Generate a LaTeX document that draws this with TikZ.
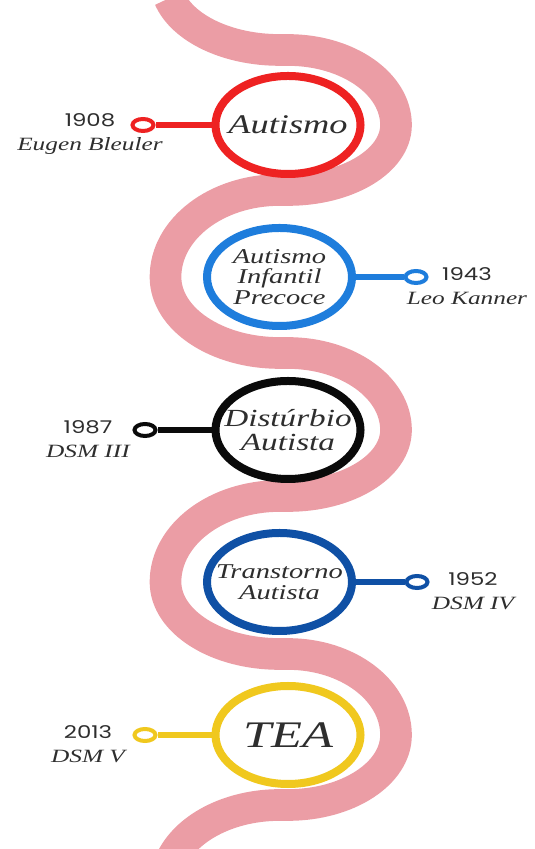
\documentclass[tikz,border=0pt]{standalone}
\usepackage{fontspec}
\setmainfont{Liberation Serif}[FakeStretch=1.35]
\newfontfamily\yearfont{Poppins}[FakeStretch=1.3]
\usetikzlibrary{shapes.geometric}
\definecolor{tlpink}{HTML}{EB9DA5}
\definecolor{tlred}{HTML}{EE2222}
\definecolor{tlblue}{HTML}{1E7DDC}
\definecolor{tlblack}{HTML}{0A0A0A}
\definecolor{tlnavy}{HTML}{0F50A5}
\definecolor{tlyellow}{HTML}{F0C81E}
\definecolor{tltext}{HTML}{2E2E2E}
\tikzset{
	band/.style={line width=0.95cm, tlpink, line join=round},
	ring/.style={ellipse, draw=#1, line width=0.24cm, fill=white, minimum width=4.35cm, minimum height=2.94cm, inner sep=0pt},
	dot/.style={ellipse, draw=#1, line width=0.12cm, fill=white, minimum width=0.63cm, minimum height=0.36cm, inner sep=0pt},
	link/.style={line width=0.18cm},
	stamp/.style={align=center, text=tltext, font=\fontsize{16}{20.5}\selectfont},
	incircle/.style={align=center, text=tltext, font=\itshape},
}

\begin{document}
\begin{tikzpicture}[x=0.03cm, y=0.03cm]
	\useasboundingbox (0,0) rectangle (534,849);

	% band
	\begin{scope}
		\clip (0,0) rectangle (534,849);
		\draw[band] (169.4,850.9) arc[start angle=195, end angle=270, x radius=114, y radius=70]
			-- (288,799) arc[start angle=90, end angle=0, x radius=108, y radius=75]
			arc[start angle=0, end angle=-90, x radius=108, y radius=65]
			-- (279.5,659) arc[start angle=90, end angle=180, x radius=114, y radius=87]
			arc[start angle=180, end angle=270, x radius=114, y radius=76]
			-- (288,496) arc[start angle=90, end angle=0, x radius=108, y radius=77]
			arc[start angle=0, end angle=-90, x radius=108, y radius=66]
			-- (279.5,353) arc[start angle=90, end angle=180, x radius=114, y radius=86]
			arc[start angle=180, end angle=270, x radius=114, y radius=72]
			-- (288,195) arc[start angle=90, end angle=0, x radius=108, y radius=81]
			arc[start angle=0, end angle=-90, x radius=108, y radius=70]
			-- (279.5,44) arc[start angle=90, end angle=160, x radius=114, y radius=80];
	\end{scope}

	% 1908
	\node[ring=tlred] (autismo) at (288,724) {};
	\node[incircle, font=\itshape\fontsize{23}{26}\selectfont] (autismo-txt) at (autismo) {Autismo};
	\node[dot=tlred] (d1908) at (143,724) {};
	\draw[link, tlred] (autismo) -- (d1908);
	\node[stamp] (l1908) at (90,715) {{\yearfont\fontsize{15}{20.5}\selectfont 1908}\\\itshape Eugen Bleuler};

	% 1943
	\node[ring=tlblue] (infantil) at (279.5,572) {};
	\node[incircle, font=\itshape\fontsize{18}{17.5}\selectfont] (infantil-txt) at (infantil) {Autismo\\Infantil\\Precoce};
	\node[dot=tlblue] (d1943) at (416,572) {};
	\draw[link, tlblue] (infantil) -- (d1943);
	\node[stamp] (l1943) at (467,563) {{\yearfont\fontsize{15}{20.5}\selectfont 1943}\\\itshape Leo Kanner};

	% 1987
	\node[ring=tlblack] (disturbio) at (288,419) {};
	\node[incircle, font=\itshape\fontsize{21}{21}\selectfont] (disturbio-txt) at (disturbio) {Distúrbio\\Autista};
	\node[dot=tlblack] (d1987) at (145,419) {};
	\draw[link, tlblack] (disturbio) -- (d1987);
	\node[stamp] (l1987) at (88,410) {{\yearfont\fontsize{15}{20.5}\selectfont 1987}\\\itshape DSM III};

	% 1952
	\node[ring=tlnavy] (transtorno) at (279.5,267) {};
	\node[incircle, font=\itshape\fontsize{18}{18}\selectfont] (transtorno-txt) at (transtorno) {Transtorno\\Autista};
	\node[dot=tlnavy] (d1952) at (417,267) {};
	\draw[link, tlnavy] (transtorno) -- (d1952);
	\node[stamp] (l1952) at (473,258) {{\yearfont\fontsize{15}{20.5}\selectfont 1952}\\\itshape DSM IV};

	% 2013
	\node[ring=tlyellow] (tea) at (288,114) {};
	\node[incircle, font=\itshape\fontsize{32}{34}\selectfont] (tea-txt) at (tea) {TEA};
	\node[dot=tlyellow] (d2013) at (145,114) {};
	\draw[link, tlyellow] (tea) -- (d2013);
	\node[stamp] (l2013) at (88,105) {{\yearfont\fontsize{15}{20.5}\selectfont 2013}\\\itshape DSM V};
\end{tikzpicture}
\end{document}
